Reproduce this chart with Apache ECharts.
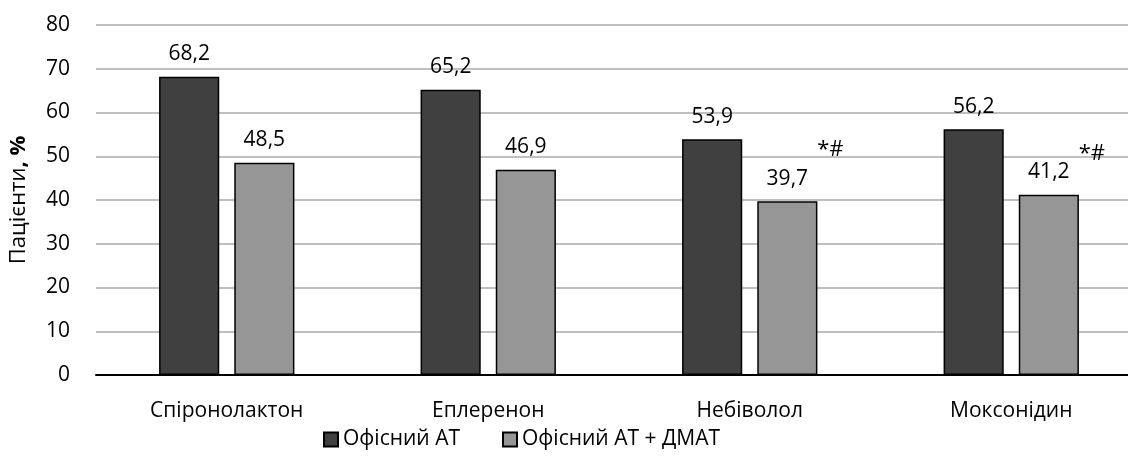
<!DOCTYPE html>
<html>
<head>
<meta charset="utf-8">
<script src="https://cdn.jsdelivr.net/npm/echarts@6/dist/echarts.min.js"></script>
<style>
  html, body { margin: 0; padding: 0; background: #fff; }
  #chart { width: 1128px; height: 466px; }
</style>
</head>
<body>
<div id="chart"></div>
<script>
// дані
const categories = ['Спіронолактон', 'Еплеренон', 'Небіволол', 'Моксонідин']
const officeBP = [68.2, 65.2, 53.9, 56.2]
const officeBPAbpm = [48.5, 46.9, 39.7, 41.2]
const seriesNames = ['Офісний АТ', 'Офісний АТ + ДМАТ']
const yTicks = [0, 10, 20, 30, 40, 50, 60, 70, 80]
// позначки достовірності (*#) над другою серією
const marks = [
    { category: 'Небіволол', value: 39.7, text: '*#', dy: -52 },
    { category: 'Моксонідин', value: 41.2, text: '*#', dy: -41 }
]

const font = '"Open Sans", "Noto Sans", sans-serif'
const fs = 21
const fmt = (v) => String(v).replace('.', ',')

const chart = echarts.init(document.getElementById('chart'))

const option = {
    animation: false,
    textStyle: { fontFamily: font },
    // область графіка виходить за край полотна справа, як в оригіналі
    grid: { left: 96, right: -14, top: 25, bottom: 91, outerBoundsMode: 'none' },
    legend: {
        bottom: 11,
        left: 318,
        itemWidth: 14,
        itemHeight: 14,
        itemGap: 42,
        icon: 'rect',
        textStyle: { fontSize: fs, color: '#000', fontFamily: font },
        data: seriesNames
    },
    xAxis: {
        type: 'category',
        data: categories,
        axisLine: { lineStyle: { color: '#000', width: 2 } },
        axisTick: { show: false },
        axisLabel: { fontSize: fs, color: '#000', margin: 26 }
    },
    yAxis: {
        type: 'value',
        min: yTicks[0],
        max: yTicks[yTicks.length - 1],
        interval: 10,
        name: '{a|Пацієнти}{b|, %}',
        nameLocation: 'middle',
        nameGap: 66,
        nameRotate: 90,
        nameTextStyle: {
            rich: {
                a: { fontSize: 22, color: '#000', fontFamily: font },
                b: { fontSize: 22, color: '#000', fontWeight: 'bold', fontFamily: font }
            }
        },
        axisLine: { show: false },
        axisTick: { show: false },
        axisLabel: { fontSize: fs, color: '#000', margin: 26 },
        splitLine: { lineStyle: { color: '#bfbfbf', width: 2 } }
    },
    series: [
        {
            name: seriesNames[0],
            type: 'bar',
            data: officeBP,
            barWidth: '23%',
            barGap: '25%',
            itemStyle: { color: '#404040', borderColor: '#000', borderWidth: 1.5 },
            label: {
                show: true,
                position: 'top',
                distance: 12,
                fontSize: fs,
                color: '#000',
                formatter: (p) => fmt(p.value)
            }
        },
        {
            name: seriesNames[1],
            type: 'bar',
            data: officeBPAbpm,
            barWidth: '23%',
            itemStyle: { color: '#969696', borderColor: '#000', borderWidth: 1.5 },
            label: {
                show: true,
                position: 'top',
                distance: 12,
                fontSize: fs,
                color: '#000',
                formatter: (p) => fmt(p.value)
            },
            markPoint: {
                symbol: 'circle',
                symbolSize: 1,
                itemStyle: { color: 'rgba(0,0,0,0)' },
                data: marks.map((m) => ({
                    coord: [m.category, m.value],
                    label: {
                        show: true,
                        position: 'inside',
                        formatter: m.text,
                        fontSize: 22,
                        color: '#000',
                        offset: [43, m.dy]
                    }
                }))
            }
        }
    ]
}

chart.setOption(option)
</script>
</body>
</html>
